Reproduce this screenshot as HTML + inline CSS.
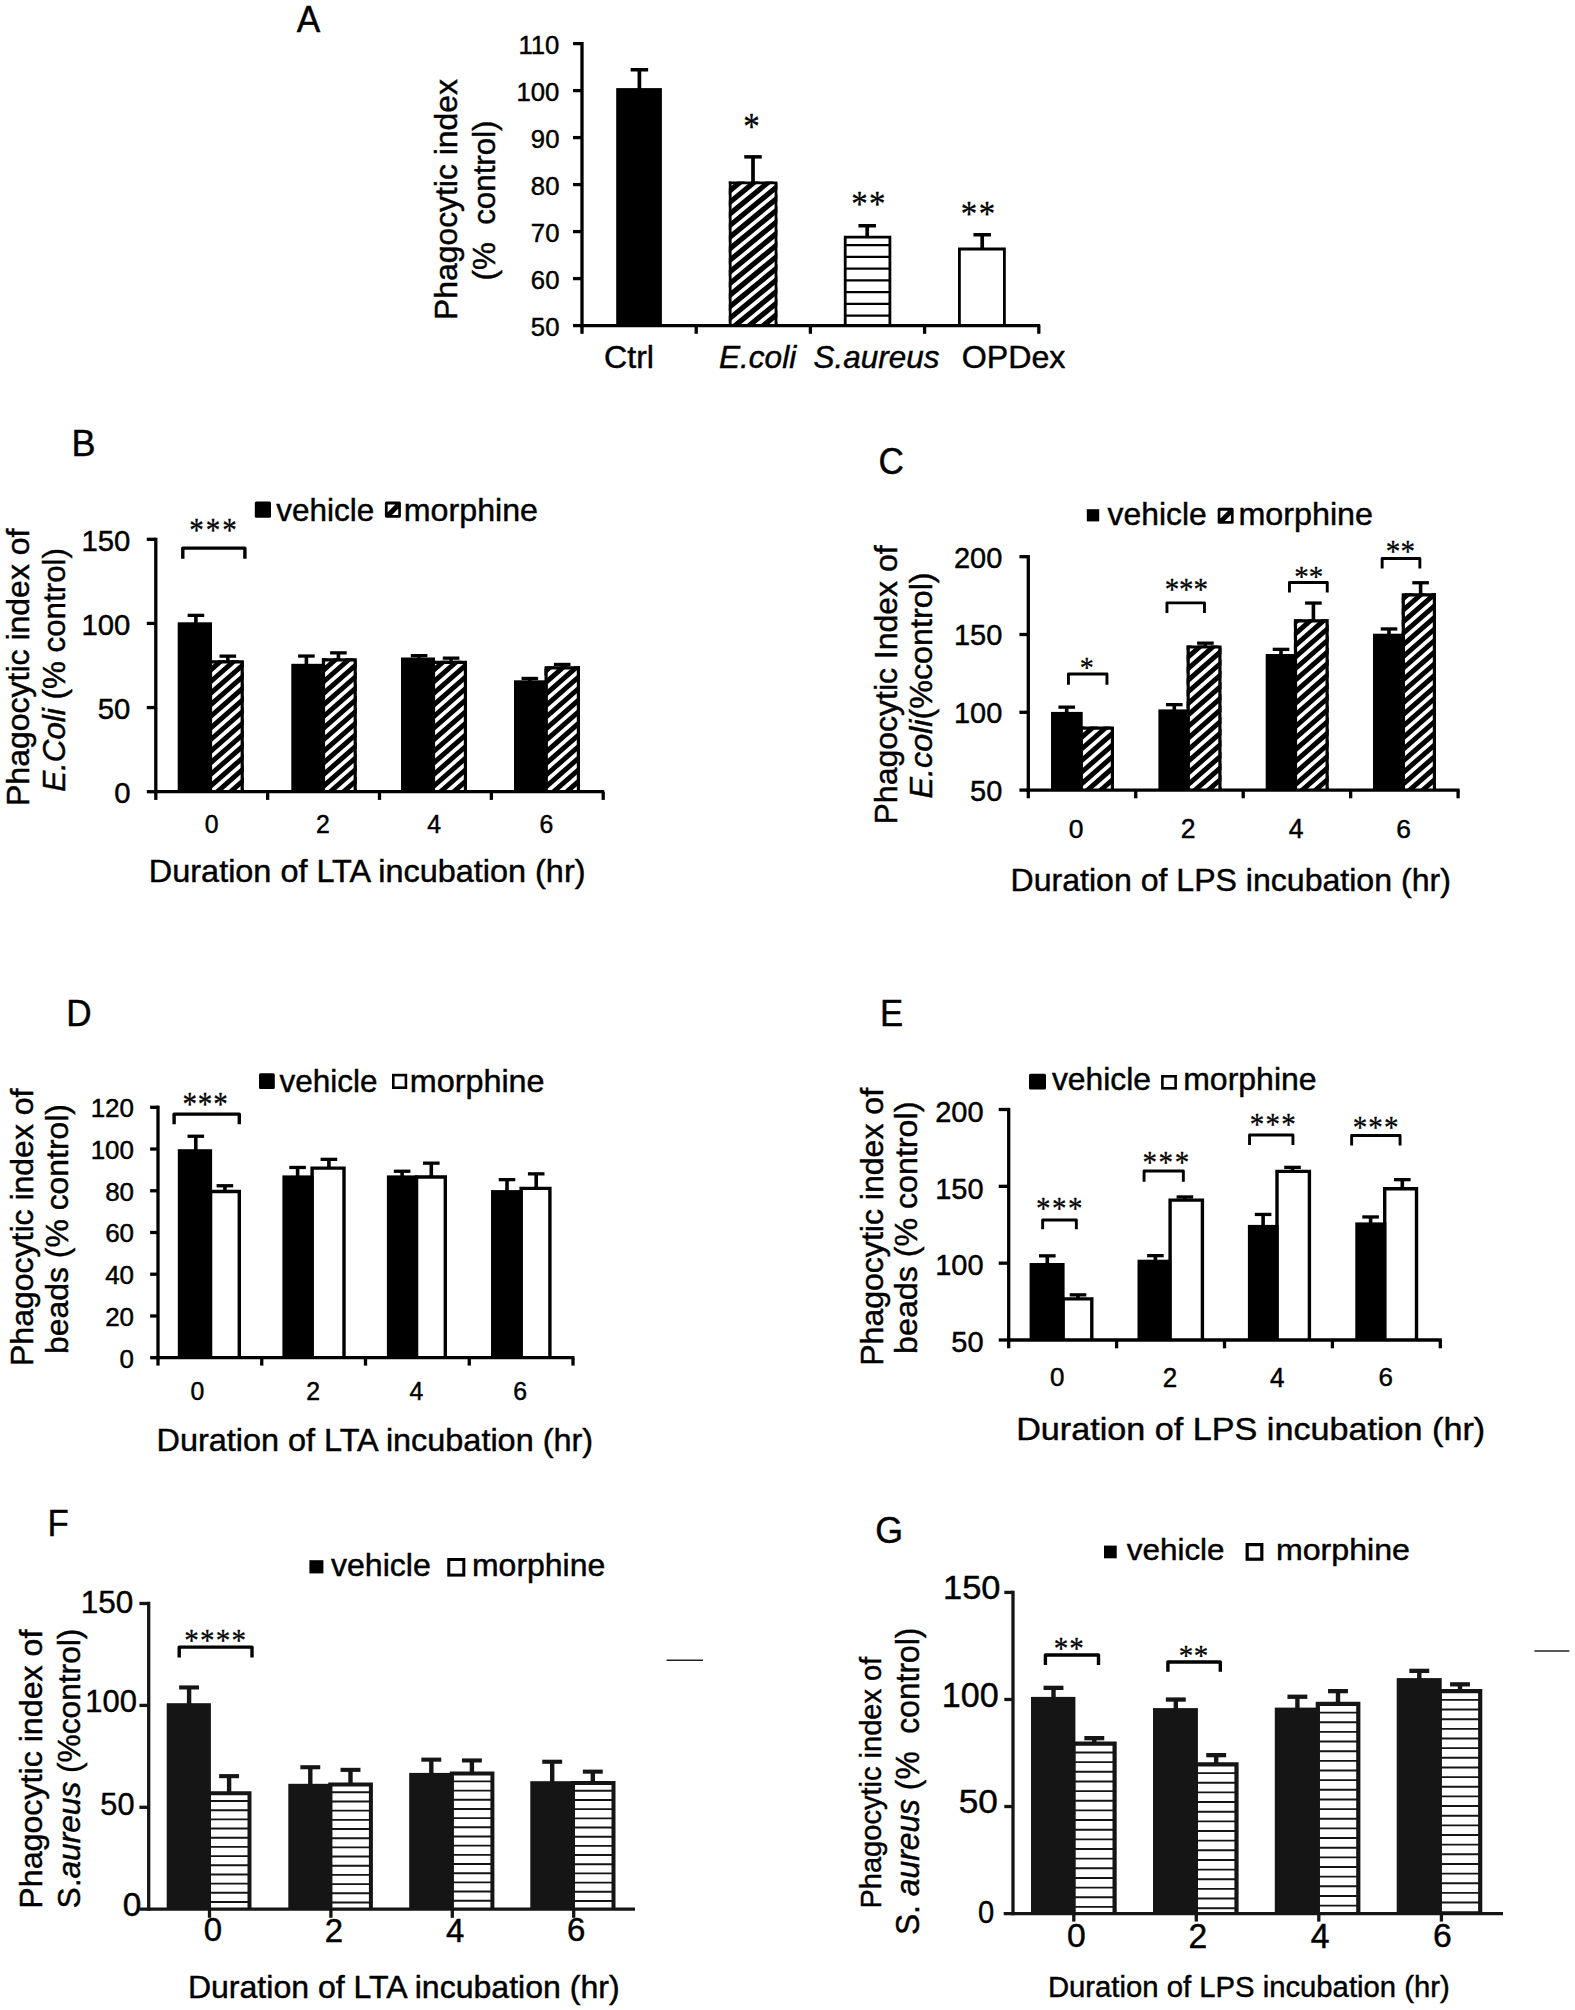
<!DOCTYPE html>
<html lang="en"><head><meta charset="utf-8"><title>Phagocytic index figure</title>
<style>html,body{margin:0;padding:0;background:#fff;overflow:hidden}svg{display:block}text{white-space:pre}</style></head><body>
<svg width="1575" height="2010" viewBox="0 0 1575 2010">
<rect width="1575" height="2010" fill="#fff"/>
<defs><clipPath id="c1"><rect x="728.8" y="181.5" width="48.6" height="144.1"/></clipPath><clipPath id="c2"><rect x="208.9" y="660.2" width="34.9" height="131.5"/></clipPath><clipPath id="c3"><rect x="321.9" y="658.2" width="34.9" height="133.5"/></clipPath><clipPath id="c4"><rect x="431.9" y="660.8" width="35.1" height="130.9"/></clipPath><clipPath id="c5"><rect x="544.5" y="666.3" width="35.5" height="125.4"/></clipPath><clipPath id="c6"><rect x="1079.6" y="726.6" width="34.4" height="63.5"/></clipPath><clipPath id="c7"><rect x="1186.6" y="645.4" width="34.9" height="144.7"/></clipPath><clipPath id="c8"><rect x="1293.9" y="619.2" width="34.8" height="170.9"/></clipPath><clipPath id="c9"><rect x="1401.7" y="593.3" width="34.3" height="196.8"/></clipPath></defs>
<rect x="616.2" y="88.1" width="45.7" height="237.5" fill="#000"/>
<g clip-path="url(#c1)"><rect x="728.8" y="181.5" width="48.6" height="144.1" fill="#fff"/><path d="M726.8 378.83L779.4 335.55M726.8 367.23L779.4 323.95M726.8 355.63L779.4 312.35M726.8 344.03L779.4 300.75M726.8 332.43L779.4 289.15M726.8 320.83L779.4 277.55M726.8 309.23L779.4 265.95M726.8 297.63L779.4 254.35M726.8 286.03L779.4 242.75M726.8 274.43L779.4 231.15M726.8 262.83L779.4 219.55M726.8 251.23L779.4 207.95M726.8 239.63L779.4 196.35M726.8 228.03L779.4 184.75M726.8 216.43L779.4 173.15M726.8 204.83L779.4 161.55M726.8 193.23L779.4 149.95M726.8 181.63L779.4 138.35" stroke="#000" stroke-width="5.25" fill="none"/></g>
<path d="M730.2 325.6V182.9H776V325.6" fill="none" stroke="#000" stroke-width="2.8" stroke-linejoin="miter"/>
<rect x="843.8" y="235.7" width="47.5" height="89.9" fill="#fff"/>
<path d="M845.2 325.6V237.1H889.9V325.6" fill="none" stroke="#000" stroke-width="2.8" stroke-linejoin="miter"/>
<path d="M845.2 245.1H889.9M845.2 256.86H889.9M845.2 268.62H889.9M845.2 280.38H889.9M845.2 292.14H889.9M845.2 303.9H889.9M845.2 315.66H889.9" stroke="#000" stroke-width="2.2" fill="none"/>
<rect x="958" y="247.6" width="47.8" height="78" fill="#fff"/>
<path d="M959.4 325.6V249H1004.4V325.6" fill="none" stroke="#000" stroke-width="2.8" stroke-linejoin="miter"/>
<path d="M639.4 69.75V89.1" stroke="#000" stroke-width="3.7" fill="none"/>
<path d="M630.65 69.75H648.15" stroke="#000" stroke-width="3.5" fill="none"/>
<path d="M753 156.85V182.5" stroke="#000" stroke-width="3.7" fill="none"/>
<path d="M744.25 156.85H761.75" stroke="#000" stroke-width="3.5" fill="none"/>
<path d="M867.2 225.75V236.7" stroke="#000" stroke-width="3.7" fill="none"/>
<path d="M858.45 225.75H875.95" stroke="#000" stroke-width="3.5" fill="none"/>
<path d="M982.2 234.75V248.6" stroke="#000" stroke-width="3.7" fill="none"/>
<path d="M973.45 234.75H990.95" stroke="#000" stroke-width="3.5" fill="none"/>
<line x1="582" y1="41.95" x2="582" y2="327.25" stroke="#000" stroke-width="3.3" stroke-linecap="butt"/>
<line x1="580.35" y1="325.6" x2="1040.2" y2="325.6" stroke="#000" stroke-width="3.3" stroke-linecap="butt"/>
<line x1="573" y1="43.6" x2="582" y2="43.6" stroke="#000" stroke-width="3.3" stroke-linecap="butt"/>
<line x1="573" y1="90.6" x2="582" y2="90.6" stroke="#000" stroke-width="3.3" stroke-linecap="butt"/>
<line x1="573" y1="137.6" x2="582" y2="137.6" stroke="#000" stroke-width="3.3" stroke-linecap="butt"/>
<line x1="573" y1="184.6" x2="582" y2="184.6" stroke="#000" stroke-width="3.3" stroke-linecap="butt"/>
<line x1="573" y1="231.6" x2="582" y2="231.6" stroke="#000" stroke-width="3.3" stroke-linecap="butt"/>
<line x1="573" y1="278.6" x2="582" y2="278.6" stroke="#000" stroke-width="3.3" stroke-linecap="butt"/>
<line x1="573" y1="325.6" x2="582" y2="325.6" stroke="#000" stroke-width="3.3" stroke-linecap="butt"/>
<line x1="582" y1="325.6" x2="582" y2="333.8" stroke="#000" stroke-width="3.3" stroke-linecap="butt"/>
<line x1="696.2" y1="325.6" x2="696.2" y2="333.8" stroke="#000" stroke-width="3.3" stroke-linecap="butt"/>
<line x1="810.4" y1="325.6" x2="810.4" y2="333.8" stroke="#000" stroke-width="3.3" stroke-linecap="butt"/>
<line x1="924.6" y1="325.6" x2="924.6" y2="333.8" stroke="#000" stroke-width="3.3" stroke-linecap="butt"/>
<line x1="1038.8" y1="325.6" x2="1038.8" y2="333.8" stroke="#000" stroke-width="3.3" stroke-linecap="butt"/>
<g clip-path="url(#c2)"><rect x="208.9" y="660.2" width="34.9" height="131.5" fill="#fff"/><path d="M206.9 835.73L245.8 801.54M206.9 824.13L245.8 789.94M206.9 812.53L245.8 778.34M206.9 800.93L245.8 766.74M206.9 789.33L245.8 755.14M206.9 777.73L245.8 743.54M206.9 766.13L245.8 731.94M206.9 754.53L245.8 720.34M206.9 742.93L245.8 708.74M206.9 731.33L245.8 697.14M206.9 719.73L245.8 685.54M206.9 708.13L245.8 673.94M206.9 696.53L245.8 662.34M206.9 684.93L245.8 650.74M206.9 673.33L245.8 639.14M206.9 661.73L245.8 627.54" stroke="#000" stroke-width="4.95" fill="none"/></g>
<path d="M210.5 791.7V661.8H242.2V791.7" fill="none" stroke="#000" stroke-width="3.2" stroke-linejoin="miter"/>
<g clip-path="url(#c3)"><rect x="321.9" y="658.2" width="34.9" height="133.5" fill="#fff"/><path d="M319.9 835.73L358.8 801.54M319.9 824.13L358.8 789.94M319.9 812.53L358.8 778.34M319.9 800.93L358.8 766.74M319.9 789.33L358.8 755.14M319.9 777.73L358.8 743.54M319.9 766.13L358.8 731.94M319.9 754.53L358.8 720.34M319.9 742.93L358.8 708.74M319.9 731.33L358.8 697.14M319.9 719.73L358.8 685.54M319.9 708.13L358.8 673.94M319.9 696.53L358.8 662.34M319.9 684.93L358.8 650.74M319.9 673.33L358.8 639.14M319.9 661.73L358.8 627.54M319.9 650.13L358.8 615.94" stroke="#000" stroke-width="4.95" fill="none"/></g>
<path d="M323.5 791.7V659.8H355.2V791.7" fill="none" stroke="#000" stroke-width="3.2" stroke-linejoin="miter"/>
<g clip-path="url(#c4)"><rect x="431.9" y="660.8" width="35.1" height="130.9" fill="#fff"/><path d="M429.9 835.9L469 801.54M429.9 824.3L469 789.94M429.9 812.7L469 778.34M429.9 801.1L469 766.74M429.9 789.5L469 755.14M429.9 777.9L469 743.54M429.9 766.3L469 731.94M429.9 754.7L469 720.34M429.9 743.1L469 708.74M429.9 731.5L469 697.14M429.9 719.9L469 685.54M429.9 708.3L469 673.94M429.9 696.7L469 662.34M429.9 685.1L469 650.74M429.9 673.5L469 639.14M429.9 661.9L469 627.54" stroke="#000" stroke-width="4.95" fill="none"/></g>
<path d="M433.5 791.7V662.4H465.4V791.7" fill="none" stroke="#000" stroke-width="3.2" stroke-linejoin="miter"/>
<g clip-path="url(#c5)"><rect x="544.5" y="666.3" width="35.5" height="125.4" fill="#fff"/><path d="M542.5 836.25L582 801.54M542.5 824.65L582 789.94M542.5 813.05L582 778.34M542.5 801.45L582 766.74M542.5 789.85L582 755.14M542.5 778.25L582 743.54M542.5 766.65L582 731.94M542.5 755.05L582 720.34M542.5 743.45L582 708.74M542.5 731.85L582 697.14M542.5 720.25L582 685.54M542.5 708.65L582 673.94M542.5 697.05L582 662.34M542.5 685.45L582 650.74M542.5 673.85L582 639.14M542.5 662.25L582 627.54" stroke="#000" stroke-width="4.95" fill="none"/></g>
<path d="M546.1 791.7V667.9H578.4V791.7" fill="none" stroke="#000" stroke-width="3.2" stroke-linejoin="miter"/>
<rect x="177.7" y="622.3" width="34.3" height="169.4" fill="#000"/>
<rect x="291.3" y="663.8" width="33.7" height="127.9" fill="#000"/>
<rect x="401" y="657.5" width="34" height="134.2" fill="#000"/>
<rect x="514" y="680.3" width="33.6" height="111.4" fill="#000"/>
<path d="M195.9 615.35V623.3" stroke="#000" stroke-width="3.6" fill="none"/>
<path d="M187.6 615.35H204.2" stroke="#000" stroke-width="3.3" fill="none"/>
<path d="M227.8 656.15V661.2" stroke="#000" stroke-width="3.6" fill="none"/>
<path d="M219.5 656.15H236.1" stroke="#000" stroke-width="3.3" fill="none"/>
<path d="M306.4 656.05V664.5" stroke="#000" stroke-width="3.6" fill="none"/>
<path d="M298.1 656.05H314.7" stroke="#000" stroke-width="3.3" fill="none"/>
<path d="M338.4 652.85V658.5" stroke="#000" stroke-width="3.6" fill="none"/>
<path d="M330.1 652.85H346.7" stroke="#000" stroke-width="3.3" fill="none"/>
<path d="M419.1 655.65V658.5" stroke="#000" stroke-width="3.6" fill="none"/>
<path d="M410.8 655.65H427.4" stroke="#000" stroke-width="3.3" fill="none"/>
<path d="M451.1 658.15V661.8" stroke="#000" stroke-width="3.6" fill="none"/>
<path d="M442.8 658.15H459.4" stroke="#000" stroke-width="3.3" fill="none"/>
<path d="M529.8 678.45V681.3" stroke="#000" stroke-width="3.6" fill="none"/>
<path d="M521.5 678.45H538.1" stroke="#000" stroke-width="3.3" fill="none"/>
<path d="M562.2 664.45V667.3" stroke="#000" stroke-width="3.6" fill="none"/>
<path d="M553.9 664.45H570.5" stroke="#000" stroke-width="3.3" fill="none"/>
<line x1="155.8" y1="537.65" x2="155.8" y2="793.35" stroke="#000" stroke-width="3.3" stroke-linecap="butt"/>
<line x1="154.15" y1="791.7" x2="604.2" y2="791.7" stroke="#000" stroke-width="3.3" stroke-linecap="butt"/>
<line x1="146.8" y1="539.3" x2="155.8" y2="539.3" stroke="#000" stroke-width="3.3" stroke-linecap="butt"/>
<line x1="146.8" y1="623.43" x2="155.8" y2="623.43" stroke="#000" stroke-width="3.3" stroke-linecap="butt"/>
<line x1="146.8" y1="707.57" x2="155.8" y2="707.57" stroke="#000" stroke-width="3.3" stroke-linecap="butt"/>
<line x1="146.8" y1="791.7" x2="155.8" y2="791.7" stroke="#000" stroke-width="3.3" stroke-linecap="butt"/>
<line x1="155.8" y1="791.7" x2="155.8" y2="799.9" stroke="#000" stroke-width="3.3" stroke-linecap="butt"/>
<line x1="267.65" y1="791.7" x2="267.65" y2="799.9" stroke="#000" stroke-width="3.3" stroke-linecap="butt"/>
<line x1="379.5" y1="791.7" x2="379.5" y2="799.9" stroke="#000" stroke-width="3.3" stroke-linecap="butt"/>
<line x1="491.35" y1="791.7" x2="491.35" y2="799.9" stroke="#000" stroke-width="3.3" stroke-linecap="butt"/>
<line x1="603.2" y1="791.7" x2="603.2" y2="799.9" stroke="#000" stroke-width="3.3" stroke-linecap="butt"/>
<path d="M182.8 558.8V548.1H244.9V558.8" stroke="#000" stroke-width="3.4" fill="none" stroke-linejoin="round" stroke-linecap="butt"/>
<rect x="254.8" y="501.5" width="16.2" height="16.2" fill="#000" rx="1.5"/>
<rect x="384.9" y="501.5" width="16" height="16.2" fill="#000" rx="1.6"/>
<path d="M387.6 504.5H395.2L387.6 512.3Z" fill="#fff"/>
<path d="M398.2 515H392L398.2 508.7Z" fill="#fff"/>
<g clip-path="url(#c6)"><rect x="1079.6" y="726.6" width="34.4" height="63.5" fill="#fff"/><path d="M1077.6 833.69L1116 799.94M1077.6 822.09L1116 788.34M1077.6 810.49L1116 776.74M1077.6 798.89L1116 765.14M1077.6 787.29L1116 753.54M1077.6 775.69L1116 741.94M1077.6 764.09L1116 730.34M1077.6 752.49L1116 718.74M1077.6 740.89L1116 707.14M1077.6 729.29L1116 695.54M1077.6 717.69L1116 683.94" stroke="#000" stroke-width="4.95" fill="none"/></g>
<path d="M1081.2 790.1V728.2H1112.4V790.1" fill="none" stroke="#000" stroke-width="3.2" stroke-linejoin="miter"/>
<g clip-path="url(#c7)"><rect x="1186.6" y="645.4" width="34.9" height="144.7" fill="#fff"/><path d="M1184.6 834.13L1223.5 799.94M1184.6 822.53L1223.5 788.34M1184.6 810.93L1223.5 776.74M1184.6 799.33L1223.5 765.14M1184.6 787.73L1223.5 753.54M1184.6 776.13L1223.5 741.94M1184.6 764.53L1223.5 730.34M1184.6 752.93L1223.5 718.74M1184.6 741.33L1223.5 707.14M1184.6 729.73L1223.5 695.54M1184.6 718.13L1223.5 683.94M1184.6 706.53L1223.5 672.34M1184.6 694.93L1223.5 660.74M1184.6 683.33L1223.5 649.14M1184.6 671.73L1223.5 637.54M1184.6 660.13L1223.5 625.94M1184.6 648.53L1223.5 614.34M1184.6 636.93L1223.5 602.74" stroke="#000" stroke-width="4.95" fill="none"/></g>
<path d="M1188.2 790.1V647H1219.9V790.1" fill="none" stroke="#000" stroke-width="3.2" stroke-linejoin="miter"/>
<g clip-path="url(#c8)"><rect x="1293.9" y="619.2" width="34.8" height="170.9" fill="#fff"/><path d="M1291.9 834.04L1330.7 799.94M1291.9 822.44L1330.7 788.34M1291.9 810.84L1330.7 776.74M1291.9 799.24L1330.7 765.14M1291.9 787.64L1330.7 753.54M1291.9 776.04L1330.7 741.94M1291.9 764.44L1330.7 730.34M1291.9 752.84L1330.7 718.74M1291.9 741.24L1330.7 707.14M1291.9 729.64L1330.7 695.54M1291.9 718.04L1330.7 683.94M1291.9 706.44L1330.7 672.34M1291.9 694.84L1330.7 660.74M1291.9 683.24L1330.7 649.14M1291.9 671.64L1330.7 637.54M1291.9 660.04L1330.7 625.94M1291.9 648.44L1330.7 614.34M1291.9 636.84L1330.7 602.74M1291.9 625.24L1330.7 591.14M1291.9 613.64L1330.7 579.54" stroke="#000" stroke-width="4.95" fill="none"/></g>
<path d="M1295.5 790.1V620.8H1327.1V790.1" fill="none" stroke="#000" stroke-width="3.2" stroke-linejoin="miter"/>
<g clip-path="url(#c9)"><rect x="1401.7" y="593.3" width="34.3" height="196.8" fill="#fff"/><path d="M1399.7 833.6L1438 799.94M1399.7 822L1438 788.34M1399.7 810.4L1438 776.74M1399.7 798.8L1438 765.14M1399.7 787.2L1438 753.54M1399.7 775.6L1438 741.94M1399.7 764L1438 730.34M1399.7 752.4L1438 718.74M1399.7 740.8L1438 707.14M1399.7 729.2L1438 695.54M1399.7 717.6L1438 683.94M1399.7 706L1438 672.34M1399.7 694.4L1438 660.74M1399.7 682.8L1438 649.14M1399.7 671.2L1438 637.54M1399.7 659.6L1438 625.94M1399.7 648L1438 614.34M1399.7 636.4L1438 602.74M1399.7 624.8L1438 591.14M1399.7 613.2L1438 579.54M1399.7 601.6L1438 567.94M1399.7 590L1438 556.34" stroke="#000" stroke-width="4.95" fill="none"/></g>
<path d="M1403.3 790.1V594.9H1434.4V790.1" fill="none" stroke="#000" stroke-width="3.2" stroke-linejoin="miter"/>
<rect x="1051" y="711.9" width="31.7" height="78.2" fill="#000"/>
<rect x="1158.4" y="709.4" width="31.3" height="80.7" fill="#000"/>
<rect x="1265.7" y="654" width="31.3" height="136.1" fill="#000"/>
<rect x="1373" y="633.7" width="31.8" height="156.4" fill="#000"/>
<path d="M1066.7 707.15V712.9" stroke="#000" stroke-width="3.6" fill="none"/>
<path d="M1058.4 707.15H1075" stroke="#000" stroke-width="3.3" fill="none"/>
<path d="M1174.3 704.65V710.4" stroke="#000" stroke-width="3.6" fill="none"/>
<path d="M1166 704.65H1182.6" stroke="#000" stroke-width="3.3" fill="none"/>
<path d="M1205.4 643.15V646.4" stroke="#000" stroke-width="3.6" fill="none"/>
<path d="M1197.1 643.15H1213.7" stroke="#000" stroke-width="3.3" fill="none"/>
<path d="M1281 649.35V655" stroke="#000" stroke-width="3.6" fill="none"/>
<path d="M1272.7 649.35H1289.3" stroke="#000" stroke-width="3.3" fill="none"/>
<path d="M1313.4 603.05V620.2" stroke="#000" stroke-width="3.6" fill="none"/>
<path d="M1305.1 603.05H1321.7" stroke="#000" stroke-width="3.3" fill="none"/>
<path d="M1389 628.95V634.7" stroke="#000" stroke-width="3.6" fill="none"/>
<path d="M1380.7 628.95H1397.3" stroke="#000" stroke-width="3.3" fill="none"/>
<path d="M1420.6 582.75V594.3" stroke="#000" stroke-width="3.6" fill="none"/>
<path d="M1412.3 582.75H1428.9" stroke="#000" stroke-width="3.3" fill="none"/>
<line x1="1028.3" y1="555.05" x2="1028.3" y2="791.75" stroke="#000" stroke-width="3.3" stroke-linecap="butt"/>
<line x1="1026.65" y1="790.1" x2="1459.6" y2="790.1" stroke="#000" stroke-width="3.3" stroke-linecap="butt"/>
<line x1="1019.4" y1="556.7" x2="1028.3" y2="556.7" stroke="#000" stroke-width="3.3" stroke-linecap="butt"/>
<line x1="1019.4" y1="634.5" x2="1028.3" y2="634.5" stroke="#000" stroke-width="3.3" stroke-linecap="butt"/>
<line x1="1019.4" y1="712.3" x2="1028.3" y2="712.3" stroke="#000" stroke-width="3.3" stroke-linecap="butt"/>
<line x1="1019.4" y1="790.1" x2="1028.3" y2="790.1" stroke="#000" stroke-width="3.3" stroke-linecap="butt"/>
<line x1="1028.3" y1="790.1" x2="1028.3" y2="798.3" stroke="#000" stroke-width="3.3" stroke-linecap="butt"/>
<line x1="1135.75" y1="790.1" x2="1135.75" y2="798.3" stroke="#000" stroke-width="3.3" stroke-linecap="butt"/>
<line x1="1243.2" y1="790.1" x2="1243.2" y2="798.3" stroke="#000" stroke-width="3.3" stroke-linecap="butt"/>
<line x1="1350.65" y1="790.1" x2="1350.65" y2="798.3" stroke="#000" stroke-width="3.3" stroke-linecap="butt"/>
<line x1="1458.1" y1="790.1" x2="1458.1" y2="798.3" stroke="#000" stroke-width="3.3" stroke-linecap="butt"/>
<path d="M1068.45 684.7V673.95H1106.95V684.7" stroke="#000" stroke-width="2.9" fill="none" stroke-linejoin="round" stroke-linecap="butt"/>
<path d="M1166.95 612.9V602.85H1204.45V612.9" stroke="#000" stroke-width="2.9" fill="none" stroke-linejoin="round" stroke-linecap="butt"/>
<path d="M1289.45 592.5V582.55H1327.25V592.5" stroke="#000" stroke-width="2.9" fill="none" stroke-linejoin="round" stroke-linecap="butt"/>
<path d="M1382.15 568.4V558.45H1419.85V568.4" stroke="#000" stroke-width="2.9" fill="none" stroke-linejoin="round" stroke-linecap="butt"/>
<rect x="1086.8" y="509.2" width="12.4" height="12.2" fill="#000"/>
<rect x="1217.7" y="507.8" width="15.9" height="16" fill="#000" rx="1.6"/>
<path d="M1220.4 510.8H1228L1220.4 518.6Z" fill="#fff"/>
<path d="M1230.9 521.1H1224.7L1230.9 514.8Z" fill="#fff"/>
<rect x="208.8" y="1189.8" width="32.2" height="167.9" fill="#fff"/>
<path d="M210.5 1357.7V1191.5H239.3V1357.7" fill="none" stroke="#000" stroke-width="3.4" stroke-linejoin="miter"/>
<rect x="310.4" y="1166.4" width="35.3" height="191.3" fill="#fff"/>
<path d="M312.1 1357.7V1168.1H344V1357.7" fill="none" stroke="#000" stroke-width="3.4" stroke-linejoin="miter"/>
<rect x="414.8" y="1175.3" width="32.2" height="182.4" fill="#fff"/>
<path d="M416.5 1357.7V1177H445.3V1357.7" fill="none" stroke="#000" stroke-width="3.4" stroke-linejoin="miter"/>
<rect x="519.4" y="1186.7" width="32.2" height="171" fill="#fff"/>
<path d="M521.1 1357.7V1188.4H549.9V1357.7" fill="none" stroke="#000" stroke-width="3.4" stroke-linejoin="miter"/>
<rect x="177.8" y="1149.2" width="34.3" height="208.5" fill="#000"/>
<rect x="282.4" y="1175.4" width="31.3" height="182.3" fill="#000"/>
<rect x="386.9" y="1175.4" width="31.2" height="182.3" fill="#000"/>
<rect x="491" y="1190.1" width="31.7" height="167.6" fill="#000"/>
<path d="M195.8 1136.25V1150.2" stroke="#000" stroke-width="3.6" fill="none"/>
<path d="M187.5 1136.25H204.1" stroke="#000" stroke-width="3.3" fill="none"/>
<path d="M224.9 1185.75V1190.8" stroke="#000" stroke-width="3.6" fill="none"/>
<path d="M216.6 1185.75H233.2" stroke="#000" stroke-width="3.3" fill="none"/>
<path d="M297.6 1167.45V1176.4" stroke="#000" stroke-width="3.6" fill="none"/>
<path d="M289.3 1167.45H305.9" stroke="#000" stroke-width="3.3" fill="none"/>
<path d="M328.9 1159.35V1167.4" stroke="#000" stroke-width="3.6" fill="none"/>
<path d="M320.6 1159.35H337.2" stroke="#000" stroke-width="3.3" fill="none"/>
<path d="M402.1 1171.25V1176.4" stroke="#000" stroke-width="3.6" fill="none"/>
<path d="M393.8 1171.25H410.4" stroke="#000" stroke-width="3.3" fill="none"/>
<path d="M431.3 1163.15V1176.3" stroke="#000" stroke-width="3.6" fill="none"/>
<path d="M423 1163.15H439.6" stroke="#000" stroke-width="3.3" fill="none"/>
<path d="M507 1179.65V1191.1" stroke="#000" stroke-width="3.6" fill="none"/>
<path d="M498.7 1179.65H515.3" stroke="#000" stroke-width="3.3" fill="none"/>
<path d="M536.2 1173.85V1187.7" stroke="#000" stroke-width="3.6" fill="none"/>
<path d="M527.9 1173.85H544.5" stroke="#000" stroke-width="3.3" fill="none"/>
<line x1="158" y1="1105.65" x2="158" y2="1359.35" stroke="#000" stroke-width="3.3" stroke-linecap="butt"/>
<line x1="156.35" y1="1357.7" x2="574.4" y2="1357.7" stroke="#000" stroke-width="3.3" stroke-linecap="butt"/>
<line x1="150.1" y1="1107.3" x2="158" y2="1107.3" stroke="#000" stroke-width="3.3" stroke-linecap="butt"/>
<line x1="150.1" y1="1149.03" x2="158" y2="1149.03" stroke="#000" stroke-width="3.3" stroke-linecap="butt"/>
<line x1="150.1" y1="1190.77" x2="158" y2="1190.77" stroke="#000" stroke-width="3.3" stroke-linecap="butt"/>
<line x1="150.1" y1="1232.5" x2="158" y2="1232.5" stroke="#000" stroke-width="3.3" stroke-linecap="butt"/>
<line x1="150.1" y1="1274.23" x2="158" y2="1274.23" stroke="#000" stroke-width="3.3" stroke-linecap="butt"/>
<line x1="150.1" y1="1315.97" x2="158" y2="1315.97" stroke="#000" stroke-width="3.3" stroke-linecap="butt"/>
<line x1="150.1" y1="1357.7" x2="158" y2="1357.7" stroke="#000" stroke-width="3.3" stroke-linecap="butt"/>
<line x1="158" y1="1357.7" x2="158" y2="1365.6" stroke="#000" stroke-width="3.3" stroke-linecap="butt"/>
<line x1="261.75" y1="1357.7" x2="261.75" y2="1365.6" stroke="#000" stroke-width="3.3" stroke-linecap="butt"/>
<line x1="365.5" y1="1357.7" x2="365.5" y2="1365.6" stroke="#000" stroke-width="3.3" stroke-linecap="butt"/>
<line x1="469.25" y1="1357.7" x2="469.25" y2="1365.6" stroke="#000" stroke-width="3.3" stroke-linecap="butt"/>
<line x1="573" y1="1357.7" x2="573" y2="1365.6" stroke="#000" stroke-width="3.3" stroke-linecap="butt"/>
<path d="M174.1 1124.2V1114.1H239.3V1124.2" stroke="#000" stroke-width="3.4" fill="none" stroke-linejoin="round" stroke-linecap="butt"/>
<rect x="259" y="1073.3" width="15.8" height="15.7" fill="#000" rx="1.5"/>
<rect x="393.3" y="1075.1" width="12.6" height="12.6" fill="#fff" stroke="#000" stroke-width="2.6"/>
<rect x="1061.3" y="1297.2" width="32.2" height="42.8" fill="#fff"/>
<path d="M1063 1340V1298.9H1091.8V1340" fill="none" stroke="#000" stroke-width="3.4" stroke-linejoin="miter"/>
<rect x="1168.4" y="1198.4" width="35.7" height="141.6" fill="#fff"/>
<path d="M1170.1 1340V1200.1H1202.4V1340" fill="none" stroke="#000" stroke-width="3.4" stroke-linejoin="miter"/>
<rect x="1275.3" y="1169.7" width="35.8" height="170.3" fill="#fff"/>
<path d="M1277 1340V1171.4H1309.4V1340" fill="none" stroke="#000" stroke-width="3.4" stroke-linejoin="miter"/>
<rect x="1383" y="1187" width="35.2" height="153" fill="#fff"/>
<path d="M1384.7 1340V1188.7H1416.5V1340" fill="none" stroke="#000" stroke-width="3.4" stroke-linejoin="miter"/>
<rect x="1029.6" y="1263" width="35" height="77" fill="#000"/>
<rect x="1137.5" y="1259.7" width="33.8" height="80.3" fill="#000"/>
<rect x="1247.9" y="1224.9" width="30.7" height="115.1" fill="#000"/>
<rect x="1355.3" y="1222.4" width="31" height="117.6" fill="#000"/>
<path d="M1047.3 1255.85V1264" stroke="#000" stroke-width="3.6" fill="none"/>
<path d="M1039 1255.85H1055.6" stroke="#000" stroke-width="3.3" fill="none"/>
<path d="M1078 1294.85V1298.2" stroke="#000" stroke-width="3.6" fill="none"/>
<path d="M1069.7 1294.85H1086.3" stroke="#000" stroke-width="3.3" fill="none"/>
<path d="M1155.4 1255.65V1260.7" stroke="#000" stroke-width="3.6" fill="none"/>
<path d="M1147.1 1255.65H1163.7" stroke="#000" stroke-width="3.3" fill="none"/>
<path d="M1184.9 1196.95V1199.4" stroke="#000" stroke-width="3.6" fill="none"/>
<path d="M1176.6 1196.95H1193.2" stroke="#000" stroke-width="3.3" fill="none"/>
<path d="M1263.1 1214.45V1225.9" stroke="#000" stroke-width="3.6" fill="none"/>
<path d="M1254.8 1214.45H1271.4" stroke="#000" stroke-width="3.3" fill="none"/>
<path d="M1292.5 1167.35V1170.7" stroke="#000" stroke-width="3.6" fill="none"/>
<path d="M1284.2 1167.35H1300.8" stroke="#000" stroke-width="3.3" fill="none"/>
<path d="M1370.6 1216.95V1223.4" stroke="#000" stroke-width="3.6" fill="none"/>
<path d="M1362.3 1216.95H1378.9" stroke="#000" stroke-width="3.3" fill="none"/>
<path d="M1402.3 1179.65V1188" stroke="#000" stroke-width="3.6" fill="none"/>
<path d="M1394 1179.65H1410.6" stroke="#000" stroke-width="3.3" fill="none"/>
<line x1="1008.7" y1="1107.85" x2="1008.7" y2="1341.65" stroke="#000" stroke-width="3.3" stroke-linecap="butt"/>
<line x1="1007.05" y1="1340" x2="1441.8" y2="1340" stroke="#000" stroke-width="3.3" stroke-linecap="butt"/>
<line x1="998.7" y1="1109.5" x2="1008.7" y2="1109.5" stroke="#000" stroke-width="3.3" stroke-linecap="butt"/>
<line x1="998.7" y1="1186.33" x2="1008.7" y2="1186.33" stroke="#000" stroke-width="3.3" stroke-linecap="butt"/>
<line x1="998.7" y1="1263.17" x2="1008.7" y2="1263.17" stroke="#000" stroke-width="3.3" stroke-linecap="butt"/>
<line x1="998.7" y1="1340" x2="1008.7" y2="1340" stroke="#000" stroke-width="3.3" stroke-linecap="butt"/>
<line x1="1008.7" y1="1340" x2="1008.7" y2="1348.3" stroke="#000" stroke-width="3.3" stroke-linecap="butt"/>
<line x1="1116.6" y1="1340" x2="1116.6" y2="1348.3" stroke="#000" stroke-width="3.3" stroke-linecap="butt"/>
<line x1="1224.5" y1="1340" x2="1224.5" y2="1348.3" stroke="#000" stroke-width="3.3" stroke-linecap="butt"/>
<line x1="1332.4" y1="1340" x2="1332.4" y2="1348.3" stroke="#000" stroke-width="3.3" stroke-linecap="butt"/>
<line x1="1440.3" y1="1340" x2="1440.3" y2="1348.3" stroke="#000" stroke-width="3.3" stroke-linecap="butt"/>
<path d="M1042.65 1229.2V1219.95H1076.35V1229.2" stroke="#000" stroke-width="2.9" fill="none" stroke-linejoin="round" stroke-linecap="butt"/>
<path d="M1144.05 1181.7V1170.95H1183.35V1181.7" stroke="#000" stroke-width="2.9" fill="none" stroke-linejoin="round" stroke-linecap="butt"/>
<path d="M1249.55 1144.9V1134.95H1292.95V1144.9" stroke="#000" stroke-width="2.9" fill="none" stroke-linejoin="round" stroke-linecap="butt"/>
<path d="M1351.65 1145.4V1135.45H1400.05V1145.4" stroke="#000" stroke-width="2.9" fill="none" stroke-linejoin="round" stroke-linecap="butt"/>
<rect x="1029" y="1073.8" width="17" height="15.8" fill="#000" rx="1.5"/>
<rect x="1162.4" y="1076.3" width="13.2" height="12" fill="#fff" stroke="#000" stroke-width="2.6"/>
<rect x="207" y="1791.2" width="44.5" height="118" fill="#fff"/>
<path d="M209 1909.2V1793.2H249.5V1909.2" fill="none" stroke="#151515" stroke-width="4" stroke-linejoin="miter"/>
<path d="M209 1801H249.5M209 1810.18H249.5M209 1819.36H249.5M209 1828.54H249.5M209 1837.72H249.5M209 1846.9H249.5M209 1856.08H249.5M209 1865.26H249.5M209 1874.44H249.5M209 1883.62H249.5M209 1892.8H249.5M209 1901.98H249.5" stroke="#151515" stroke-width="1.9" fill="none"/>
<rect x="328.3" y="1782.5" width="44.6" height="126.7" fill="#fff"/>
<path d="M330.3 1909.2V1784.5H370.9V1909.2" fill="none" stroke="#151515" stroke-width="4" stroke-linejoin="miter"/>
<path d="M330.3 1792.3H370.9M330.3 1801.48H370.9M330.3 1810.66H370.9M330.3 1819.84H370.9M330.3 1829.02H370.9M330.3 1838.2H370.9M330.3 1847.38H370.9M330.3 1856.56H370.9M330.3 1865.74H370.9M330.3 1874.92H370.9M330.3 1884.1H370.9M330.3 1893.28H370.9M330.3 1902.46H370.9" stroke="#151515" stroke-width="1.9" fill="none"/>
<rect x="449.8" y="1771.6" width="44.6" height="137.6" fill="#fff"/>
<path d="M451.8 1909.2V1773.6H492.4V1909.2" fill="none" stroke="#151515" stroke-width="4" stroke-linejoin="miter"/>
<path d="M451.8 1781.4H492.4M451.8 1790.58H492.4M451.8 1799.76H492.4M451.8 1808.94H492.4M451.8 1818.12H492.4M451.8 1827.3H492.4M451.8 1836.48H492.4M451.8 1845.66H492.4M451.8 1854.84H492.4M451.8 1864.02H492.4M451.8 1873.2H492.4M451.8 1882.38H492.4M451.8 1891.56H492.4M451.8 1900.74H492.4" stroke="#151515" stroke-width="1.9" fill="none"/>
<rect x="570.9" y="1781" width="44.6" height="128.2" fill="#fff"/>
<path d="M572.9 1909.2V1783H613.5V1909.2" fill="none" stroke="#151515" stroke-width="4" stroke-linejoin="miter"/>
<path d="M572.9 1790.8H613.5M572.9 1799.98H613.5M572.9 1809.16H613.5M572.9 1818.34H613.5M572.9 1827.52H613.5M572.9 1836.7H613.5M572.9 1845.88H613.5M572.9 1855.06H613.5M572.9 1864.24H613.5M572.9 1873.42H613.5M572.9 1882.6H613.5M572.9 1891.78H613.5M572.9 1900.96H613.5" stroke="#151515" stroke-width="1.9" fill="none"/>
<rect x="166.7" y="1703.2" width="44.2" height="206" fill="#151515"/>
<rect x="288.3" y="1783.8" width="43.9" height="125.4" fill="#151515"/>
<rect x="409.2" y="1772.9" width="44.5" height="136.3" fill="#151515"/>
<rect x="530.3" y="1781.2" width="44.5" height="128" fill="#151515"/>
<path d="M189.1 1687.45V1704.2" stroke="#151515" stroke-width="4.4" fill="none"/>
<path d="M179.15 1687.45H199.05" stroke="#151515" stroke-width="4.1" fill="none"/>
<path d="M229.1 1776.15V1792.2" stroke="#151515" stroke-width="4.4" fill="none"/>
<path d="M219.15 1776.15H239.05" stroke="#151515" stroke-width="4.1" fill="none"/>
<path d="M310.3 1767.25V1784.8" stroke="#151515" stroke-width="4.4" fill="none"/>
<path d="M300.35 1767.25H320.25" stroke="#151515" stroke-width="4.1" fill="none"/>
<path d="M350.5 1769.85V1783.5" stroke="#151515" stroke-width="4.4" fill="none"/>
<path d="M340.55 1769.85H360.45" stroke="#151515" stroke-width="4.1" fill="none"/>
<path d="M431.3 1759.65V1773.9" stroke="#151515" stroke-width="4.4" fill="none"/>
<path d="M421.35 1759.65H441.25" stroke="#151515" stroke-width="4.1" fill="none"/>
<path d="M471.9 1760.45V1772.6" stroke="#151515" stroke-width="4.4" fill="none"/>
<path d="M461.95 1760.45H481.85" stroke="#151515" stroke-width="4.1" fill="none"/>
<path d="M552.2 1761.75V1782.2" stroke="#151515" stroke-width="4.4" fill="none"/>
<path d="M542.25 1761.75H562.15" stroke="#151515" stroke-width="4.1" fill="none"/>
<path d="M592.8 1771.65V1782" stroke="#151515" stroke-width="4.4" fill="none"/>
<path d="M582.85 1771.65H602.75" stroke="#151515" stroke-width="4.1" fill="none"/>
<line x1="148.7" y1="1601.85" x2="148.7" y2="1910.85" stroke="#151515" stroke-width="3.3" stroke-linecap="butt"/>
<line x1="139.4" y1="1909.2" x2="635" y2="1909.2" stroke="#151515" stroke-width="3.3" stroke-linecap="butt"/>
<line x1="139.4" y1="1603.5" x2="148.7" y2="1603.5" stroke="#151515" stroke-width="3.3" stroke-linecap="butt"/>
<line x1="139.4" y1="1705.4" x2="148.7" y2="1705.4" stroke="#151515" stroke-width="3.3" stroke-linecap="butt"/>
<line x1="139.4" y1="1807.3" x2="148.7" y2="1807.3" stroke="#151515" stroke-width="3.3" stroke-linecap="butt"/>
<line x1="209.5" y1="1909.2" x2="209.5" y2="1917.8" stroke="#151515" stroke-width="3.3" stroke-linecap="butt"/>
<line x1="330.9" y1="1909.2" x2="330.9" y2="1917.8" stroke="#151515" stroke-width="3.3" stroke-linecap="butt"/>
<line x1="452.3" y1="1909.2" x2="452.3" y2="1917.8" stroke="#151515" stroke-width="3.3" stroke-linecap="butt"/>
<line x1="573.7" y1="1909.2" x2="573.7" y2="1917.8" stroke="#151515" stroke-width="3.3" stroke-linecap="butt"/>
<path d="M179.2 1657.5V1647.1H252V1657.5" stroke="#000" stroke-width="3.4" fill="none" stroke-linejoin="round" stroke-linecap="butt"/>
<rect x="309.4" y="1560.2" width="14" height="13.2" fill="#000"/>
<rect x="448.8" y="1559.5" width="15" height="15.6" fill="#fff" stroke="#000" stroke-width="3"/>
<line x1="666.5" y1="1660.3" x2="703" y2="1660.3" stroke="#222" stroke-width="1.6" stroke-linecap="butt"/>
<rect x="1071.3" y="1741.6" width="45.4" height="172" fill="#fff"/>
<path d="M1073.4 1913.6V1743.7H1114.6V1913.6" fill="none" stroke="#151515" stroke-width="4.2" stroke-linejoin="miter"/>
<path d="M1073.4 1752.5H1114.6M1073.4 1762.15H1114.6M1073.4 1771.8H1114.6M1073.4 1781.45H1114.6M1073.4 1791.1H1114.6M1073.4 1800.75H1114.6M1073.4 1810.4H1114.6M1073.4 1820.05H1114.6M1073.4 1829.7H1114.6M1073.4 1839.35H1114.6M1073.4 1849H1114.6M1073.4 1858.65H1114.6M1073.4 1868.3H1114.6M1073.4 1877.95H1114.6M1073.4 1887.6H1114.6M1073.4 1897.25H1114.6M1073.4 1906.9H1114.6" stroke="#151515" stroke-width="1.9" fill="none"/>
<rect x="1193.8" y="1762.2" width="44.8" height="151.4" fill="#fff"/>
<path d="M1195.9 1913.6V1764.3H1236.5V1913.6" fill="none" stroke="#151515" stroke-width="4.2" stroke-linejoin="miter"/>
<path d="M1195.9 1773.1H1236.5M1195.9 1782.75H1236.5M1195.9 1792.4H1236.5M1195.9 1802.05H1236.5M1195.9 1811.7H1236.5M1195.9 1821.35H1236.5M1195.9 1831H1236.5M1195.9 1840.65H1236.5M1195.9 1850.3H1236.5M1195.9 1859.95H1236.5M1195.9 1869.6H1236.5M1195.9 1879.25H1236.5M1195.9 1888.9H1236.5M1195.9 1898.55H1236.5M1195.9 1908.2H1236.5" stroke="#151515" stroke-width="1.9" fill="none"/>
<rect x="1315.7" y="1701.7" width="44.7" height="211.9" fill="#fff"/>
<path d="M1317.8 1913.6V1703.8H1358.3V1913.6" fill="none" stroke="#151515" stroke-width="4.2" stroke-linejoin="miter"/>
<path d="M1317.8 1712.6H1358.3M1317.8 1722.25H1358.3M1317.8 1731.9H1358.3M1317.8 1741.55H1358.3M1317.8 1751.2H1358.3M1317.8 1760.85H1358.3M1317.8 1770.5H1358.3M1317.8 1780.15H1358.3M1317.8 1789.8H1358.3M1317.8 1799.45H1358.3M1317.8 1809.1H1358.3M1317.8 1818.75H1358.3M1317.8 1828.4H1358.3M1317.8 1838.05H1358.3M1317.8 1847.7H1358.3M1317.8 1857.35H1358.3M1317.8 1867H1358.3M1317.8 1876.65H1358.3M1317.8 1886.3H1358.3M1317.8 1895.95H1358.3M1317.8 1905.6H1358.3" stroke="#151515" stroke-width="1.9" fill="none"/>
<rect x="1437.6" y="1689" width="44.7" height="224.6" fill="#fff"/>
<path d="M1439.7 1913.6V1691.1H1480.2V1913.6" fill="none" stroke="#151515" stroke-width="4.2" stroke-linejoin="miter"/>
<path d="M1439.7 1699.9H1480.2M1439.7 1709.55H1480.2M1439.7 1719.2H1480.2M1439.7 1728.85H1480.2M1439.7 1738.5H1480.2M1439.7 1748.15H1480.2M1439.7 1757.8H1480.2M1439.7 1767.45H1480.2M1439.7 1777.1H1480.2M1439.7 1786.75H1480.2M1439.7 1796.4H1480.2M1439.7 1806.05H1480.2M1439.7 1815.7H1480.2M1439.7 1825.35H1480.2M1439.7 1835H1480.2M1439.7 1844.65H1480.2M1439.7 1854.3H1480.2M1439.7 1863.95H1480.2M1439.7 1873.6H1480.2M1439.7 1883.25H1480.2M1439.7 1892.9H1480.2M1439.7 1902.55H1480.2M1439.7 1912.2H1480.2" stroke="#151515" stroke-width="1.9" fill="none"/>
<rect x="1031" y="1696.9" width="44.4" height="216.7" fill="#151515"/>
<rect x="1153" y="1708.1" width="44.9" height="205.5" fill="#151515"/>
<rect x="1274.8" y="1707.6" width="45" height="206" fill="#151515"/>
<rect x="1396.7" y="1678.1" width="45" height="235.5" fill="#151515"/>
<path d="M1053.5 1687.85V1697.9" stroke="#151515" stroke-width="4.4" fill="none"/>
<path d="M1043.55 1687.85H1063.45" stroke="#151515" stroke-width="4.3" fill="none"/>
<path d="M1094.3 1738.15V1742.6" stroke="#151515" stroke-width="4.4" fill="none"/>
<path d="M1084.35 1738.15H1104.25" stroke="#151515" stroke-width="4.3" fill="none"/>
<path d="M1175.8 1699.55V1709.1" stroke="#151515" stroke-width="4.4" fill="none"/>
<path d="M1165.85 1699.55H1185.75" stroke="#151515" stroke-width="4.3" fill="none"/>
<path d="M1216.2 1755.15V1763.2" stroke="#151515" stroke-width="4.4" fill="none"/>
<path d="M1206.25 1755.15H1226.15" stroke="#151515" stroke-width="4.3" fill="none"/>
<path d="M1297.4 1696.75V1708.6" stroke="#151515" stroke-width="4.4" fill="none"/>
<path d="M1287.45 1696.75H1307.35" stroke="#151515" stroke-width="4.3" fill="none"/>
<path d="M1338 1691.15V1702.7" stroke="#151515" stroke-width="4.4" fill="none"/>
<path d="M1328.05 1691.15H1347.95" stroke="#151515" stroke-width="4.3" fill="none"/>
<path d="M1419.3 1670.85V1679.1" stroke="#151515" stroke-width="4.4" fill="none"/>
<path d="M1409.35 1670.85H1429.25" stroke="#151515" stroke-width="4.3" fill="none"/>
<path d="M1460 1684.35V1690" stroke="#151515" stroke-width="4.4" fill="none"/>
<path d="M1450.05 1684.35H1469.95" stroke="#151515" stroke-width="4.3" fill="none"/>
<line x1="1013" y1="1590.75" x2="1013" y2="1915.25" stroke="#151515" stroke-width="3.3" stroke-linecap="butt"/>
<line x1="1003.7" y1="1913.6" x2="1503" y2="1913.6" stroke="#151515" stroke-width="3.3" stroke-linecap="butt"/>
<line x1="1004.3" y1="1592.4" x2="1013" y2="1592.4" stroke="#151515" stroke-width="3.3" stroke-linecap="butt"/>
<line x1="1004.3" y1="1699.47" x2="1013" y2="1699.47" stroke="#151515" stroke-width="3.3" stroke-linecap="butt"/>
<line x1="1004.3" y1="1806.53" x2="1013" y2="1806.53" stroke="#151515" stroke-width="3.3" stroke-linecap="butt"/>
<line x1="1073.8" y1="1913.6" x2="1073.8" y2="1921.6" stroke="#151515" stroke-width="3.3" stroke-linecap="butt"/>
<line x1="1196.3" y1="1913.6" x2="1196.3" y2="1921.6" stroke="#151515" stroke-width="3.3" stroke-linecap="butt"/>
<line x1="1318.8" y1="1913.6" x2="1318.8" y2="1921.6" stroke="#151515" stroke-width="3.3" stroke-linecap="butt"/>
<line x1="1441.4" y1="1913.6" x2="1441.4" y2="1921.6" stroke="#151515" stroke-width="3.3" stroke-linecap="butt"/>
<path d="M1045.4 1665.1V1655H1098.5V1665.1" stroke="#000" stroke-width="3.4" fill="none" stroke-linejoin="round" stroke-linecap="butt"/>
<path d="M1167.9 1671.8V1662H1220.3V1671.8" stroke="#000" stroke-width="3.4" fill="none" stroke-linejoin="round" stroke-linecap="butt"/>
<rect x="1104" y="1545.6" width="12.7" height="12.7" fill="#000"/>
<rect x="1247.2" y="1544.6" width="14.6" height="14.6" fill="#fff" stroke="#000" stroke-width="3.2"/>
<line x1="1534.4" y1="1651" x2="1569.4" y2="1651" stroke="#222" stroke-width="1.6" stroke-linecap="butt"/>
<text transform="translate(296.8 31.7) scale(0.9534 0.9879)" font-family="'Liberation Sans', sans-serif" font-size="37" fill="#000" stroke="#000" stroke-width="0.45">A</text>
<text transform="translate(71.49 456.3) scale(0.9736 0.9763)" font-family="'Liberation Sans', sans-serif" font-size="37" fill="#000" stroke="#000" stroke-width="0.45">B</text>
<text transform="translate(878.55 474.01) scale(0.9492 1.0153)" font-family="'Liberation Sans', sans-serif" font-size="37" fill="#000" stroke="#000" stroke-width="0.45">C</text>
<text transform="translate(66.36 1025.9) scale(0.9491 0.9763)" font-family="'Liberation Sans', sans-serif" font-size="37" fill="#000" stroke="#000" stroke-width="0.45">D</text>
<text transform="translate(879.99 1025.9) scale(0.9390 0.9763)" font-family="'Liberation Sans', sans-serif" font-size="37" fill="#000" stroke="#000" stroke-width="0.45">E</text>
<text transform="translate(47.58 1535.8) scale(0.9405 0.9879)" font-family="'Liberation Sans', sans-serif" font-size="37" fill="#000" stroke="#000" stroke-width="0.45">F</text>
<text transform="translate(875.32 1542.92) scale(0.9678 1.0115)" font-family="'Liberation Sans', sans-serif" font-size="37" fill="#000" stroke="#000" stroke-width="0.45">G</text>
<text transform="translate(518.47 53.8) scale(1.0000 1.0069)" font-family="'Liberation Sans', sans-serif" font-size="25.7" fill="#000" stroke="#000" stroke-width="0.45">110</text>
<text transform="translate(516.56 100.8) scale(1.0000 1.0069)" font-family="'Liberation Sans', sans-serif" font-size="25.7" fill="#000" stroke="#000" stroke-width="0.45">100</text>
<text transform="translate(530.85 147.8) scale(1.0000 1.0069)" font-family="'Liberation Sans', sans-serif" font-size="25.7" fill="#000" stroke="#000" stroke-width="0.45">90</text>
<text transform="translate(530.85 194.8) scale(1.0000 1.0069)" font-family="'Liberation Sans', sans-serif" font-size="25.7" fill="#000" stroke="#000" stroke-width="0.45">80</text>
<text transform="translate(530.85 241.8) scale(1.0000 1.0069)" font-family="'Liberation Sans', sans-serif" font-size="25.7" fill="#000" stroke="#000" stroke-width="0.45">70</text>
<text transform="translate(530.85 288.8) scale(1.0000 1.0069)" font-family="'Liberation Sans', sans-serif" font-size="25.7" fill="#000" stroke="#000" stroke-width="0.45">60</text>
<text transform="translate(530.85 335.8) scale(1.0000 1.0069)" font-family="'Liberation Sans', sans-serif" font-size="25.7" fill="#000" stroke="#000" stroke-width="0.45">50</text>
<text transform="translate(743.25 138.85) scale(0.9162 1.0519)" font-family="'Liberation Serif', serif" font-size="36" fill="#000" stroke="#000" stroke-width="0.3">*</text>
<text transform="translate(851.15 216) scale(0.9162 1.0074)" font-family="'Liberation Serif', serif" font-size="36" fill="#000" stroke="#000" stroke-width="0.3" letter-spacing="1.536">**</text>
<text transform="translate(960.85 226.3) scale(0.9162 0.9778)" font-family="'Liberation Serif', serif" font-size="36" fill="#000" stroke="#000" stroke-width="0.3" letter-spacing="1.536">**</text>
<text transform="translate(604.1 367.7) scale(1.0031 1.0000)" font-family="'Liberation Sans', sans-serif" font-size="32" fill="#000" stroke="#000" stroke-width="0.45">Ctrl</text>
<text transform="translate(718.91 367.7) scale(0.9880 1.0000)" font-family="'Liberation Sans', sans-serif" font-size="32" fill="#000" stroke="#000" stroke-width="0.45"><tspan font-style="italic">E.coli</tspan></text>
<text transform="translate(813.51 367.7) scale(0.9836 1.0000)" font-family="'Liberation Sans', sans-serif" font-size="32" fill="#000" stroke="#000" stroke-width="0.45"><tspan font-style="italic">S.aureus</tspan></text>
<text transform="translate(961.69 367.7) scale(1.0065 1.0000)" font-family="'Liberation Sans', sans-serif" font-size="32" fill="#000" stroke="#000" stroke-width="0.45">OPDex</text>
<text transform="translate(456.5 319.99) rotate(-90) scale(0.9961 1.0000)" font-family="'Liberation Sans', sans-serif" font-size="32" fill="#000" stroke="#000" stroke-width="0.45">Phagocytic index</text>
<text transform="translate(495.3 280.47) rotate(-90) scale(0.9786 1.0000)" font-family="'Liberation Sans', sans-serif" font-size="32" fill="#000" stroke="#000" stroke-width="0.45">(%  control)</text>
<text transform="translate(81.54 550.64) scale(1.0000 1.0067)" font-family="'Liberation Sans', sans-serif" font-size="29.3" fill="#000" stroke="#000" stroke-width="0.45">150</text>
<text transform="translate(81.54 634.77) scale(1.0000 1.0067)" font-family="'Liberation Sans', sans-serif" font-size="29.3" fill="#000" stroke="#000" stroke-width="0.45">100</text>
<text transform="translate(97.84 718.91) scale(1.0000 1.0067)" font-family="'Liberation Sans', sans-serif" font-size="29.3" fill="#000" stroke="#000" stroke-width="0.45">50</text>
<text transform="translate(114.13 803.04) scale(1.0000 1.0067)" font-family="'Liberation Sans', sans-serif" font-size="29.3" fill="#000" stroke="#000" stroke-width="0.45">0</text>
<text transform="translate(189.14 540.95) scale(0.8802 1.0182)" font-family="'Liberation Serif', serif" font-size="33" fill="#000" stroke="#000" stroke-width="0.3" letter-spacing="2.246">***</text>
<text transform="translate(276.3 520.6) scale(0.9826 1.0000)" font-family="'Liberation Sans', sans-serif" font-size="32" fill="#000" stroke="#000" stroke-width="0.45">vehicle</text>
<text transform="translate(403.79 520.6) scale(1.0061 1.0000)" font-family="'Liberation Sans', sans-serif" font-size="32" fill="#000" stroke="#000" stroke-width="0.45">morphine</text>
<text transform="translate(204.72 833.01) scale(1.0000 1.0042)" font-family="'Liberation Sans', sans-serif" font-size="24.8" fill="#000" stroke="#000" stroke-width="0.45">0</text>
<text transform="translate(316.02 833.4) scale(1.0000 1.0265)" font-family="'Liberation Sans', sans-serif" font-size="24.8" fill="#000" stroke="#000" stroke-width="0.45">2</text>
<text transform="translate(427.22 833.4) scale(1.0000 1.0265)" font-family="'Liberation Sans', sans-serif" font-size="24.8" fill="#000" stroke="#000" stroke-width="0.45">4</text>
<text transform="translate(539.52 833.01) scale(1.0000 1.0042)" font-family="'Liberation Sans', sans-serif" font-size="24.8" fill="#000" stroke="#000" stroke-width="0.45">6</text>
<text transform="translate(148.87 881.9) scale(1.0132 1.0000)" font-family="'Liberation Sans', sans-serif" font-size="32" fill="#000" stroke="#000" stroke-width="0.45">Duration of LTA incubation (hr)</text>
<text transform="translate(29.2 806) rotate(-90)" font-family="'Liberation Sans', sans-serif" font-size="32" fill="#000" stroke="#000" stroke-width="0.45">Phagocytic index of</text>
<text transform="translate(65 791.79) rotate(-90) scale(0.9798 1.0000)" font-family="'Liberation Sans', sans-serif" font-size="32" fill="#000" stroke="#000" stroke-width="0.45"><tspan font-style="italic">E.Coli</tspan> (% control)</text>
<text transform="translate(953.94 567.6) scale(1.0000 1.0027)" font-family="'Liberation Sans', sans-serif" font-size="29" fill="#000" stroke="#000" stroke-width="0.45">200</text>
<text transform="translate(953.94 645.4) scale(1.0000 1.0027)" font-family="'Liberation Sans', sans-serif" font-size="29" fill="#000" stroke="#000" stroke-width="0.45">150</text>
<text transform="translate(953.94 723.2) scale(1.0000 1.0027)" font-family="'Liberation Sans', sans-serif" font-size="29" fill="#000" stroke="#000" stroke-width="0.45">100</text>
<text transform="translate(970.07 801) scale(1.0000 1.0027)" font-family="'Liberation Sans', sans-serif" font-size="29" fill="#000" stroke="#000" stroke-width="0.45">50</text>
<text transform="translate(1079.68 677.25) scale(0.8503 0.9212)" font-family="'Liberation Serif', serif" font-size="33" fill="#000" stroke="#000" stroke-width="0.3">*</text>
<text transform="translate(1164.64 599.92) scale(0.8802 0.9293)" font-family="'Liberation Serif', serif" font-size="33" fill="#000" stroke="#000" stroke-width="0.3" letter-spacing="-0.083">***</text>
<text transform="translate(1294.24 585.85) scale(0.8802 0.9212)" font-family="'Liberation Serif', serif" font-size="33" fill="#000" stroke="#000" stroke-width="0.3" letter-spacing="-0.140">**</text>
<text transform="translate(1385.64 561.83) scale(0.8802 0.9293)" font-family="'Liberation Serif', serif" font-size="33" fill="#000" stroke="#000" stroke-width="0.3" letter-spacing="0.428">**</text>
<text transform="translate(1107.6 524.5) scale(0.9948 1.0000)" font-family="'Liberation Sans', sans-serif" font-size="32" fill="#000" stroke="#000" stroke-width="0.45">vehicle</text>
<text transform="translate(1238.48 524.5) scale(1.0092 1.0000)" font-family="'Liberation Sans', sans-serif" font-size="32" fill="#000" stroke="#000" stroke-width="0.45">morphine</text>
<text transform="translate(1068.85 837.59) scale(1.0000 0.9975)" font-family="'Liberation Sans', sans-serif" font-size="26.5" fill="#000" stroke="#000" stroke-width="0.45">0</text>
<text transform="translate(1180.85 838) scale(1.0000 1.0197)" font-family="'Liberation Sans', sans-serif" font-size="26.5" fill="#000" stroke="#000" stroke-width="0.45">2</text>
<text transform="translate(1288.85 838) scale(1.0000 1.0197)" font-family="'Liberation Sans', sans-serif" font-size="26.5" fill="#000" stroke="#000" stroke-width="0.45">4</text>
<text transform="translate(1396.15 837.59) scale(1.0000 0.9975)" font-family="'Liberation Sans', sans-serif" font-size="26.5" fill="#000" stroke="#000" stroke-width="0.45">6</text>
<text transform="translate(1010.49 891.2) scale(1.0026 1.0000)" font-family="'Liberation Sans', sans-serif" font-size="32" fill="#000" stroke="#000" stroke-width="0.45">Duration of LPS incubation (hr)</text>
<text transform="translate(896.8 824.5) rotate(-90) scale(0.9935 1.0000)" font-family="'Liberation Sans', sans-serif" font-size="32.2" fill="#000" stroke="#000" stroke-width="0.45">Phagocytic Index of</text>
<text transform="translate(932.2 798.5) rotate(-90) scale(1.0488 1.0000)" font-family="'Liberation Sans', sans-serif" font-size="30.8" fill="#000" stroke="#000" stroke-width="0.45"><tspan font-style="italic">E.coli</tspan>(%control)</text>
<text transform="translate(90.67 1117.29) scale(1.0000 1.0060)" font-family="'Liberation Sans', sans-serif" font-size="26" fill="#000" stroke="#000" stroke-width="0.45">120</text>
<text transform="translate(90.67 1159.02) scale(1.0000 1.0060)" font-family="'Liberation Sans', sans-serif" font-size="26" fill="#000" stroke="#000" stroke-width="0.45">100</text>
<text transform="translate(105.13 1200.76) scale(1.0000 1.0060)" font-family="'Liberation Sans', sans-serif" font-size="26" fill="#000" stroke="#000" stroke-width="0.45">80</text>
<text transform="translate(105.13 1242.49) scale(1.0000 1.0060)" font-family="'Liberation Sans', sans-serif" font-size="26" fill="#000" stroke="#000" stroke-width="0.45">60</text>
<text transform="translate(105.13 1284.22) scale(1.0000 1.0060)" font-family="'Liberation Sans', sans-serif" font-size="26" fill="#000" stroke="#000" stroke-width="0.45">40</text>
<text transform="translate(105.13 1325.96) scale(1.0000 1.0060)" font-family="'Liberation Sans', sans-serif" font-size="26" fill="#000" stroke="#000" stroke-width="0.45">20</text>
<text transform="translate(119.59 1367.69) scale(1.0000 1.0060)" font-family="'Liberation Sans', sans-serif" font-size="26" fill="#000" stroke="#000" stroke-width="0.45">0</text>
<text transform="translate(182.54 1115.22) scale(0.8802 0.9939)" font-family="'Liberation Serif', serif" font-size="33" fill="#000" stroke="#000" stroke-width="0.3" letter-spacing="0.883">***</text>
<text transform="translate(279.4 1091.6) scale(0.9846 1.0000)" font-family="'Liberation Sans', sans-serif" font-size="32" fill="#000" stroke="#000" stroke-width="0.45">vehicle</text>
<text transform="translate(409.68 1091.6) scale(1.0115 1.0000)" font-family="'Liberation Sans', sans-serif" font-size="32" fill="#000" stroke="#000" stroke-width="0.45">morphine</text>
<text transform="translate(190.53 1399.71) scale(1.0000 1.0042)" font-family="'Liberation Sans', sans-serif" font-size="24.8" fill="#000" stroke="#000" stroke-width="0.45">0</text>
<text transform="translate(306.32 1400.1) scale(1.0000 1.0265)" font-family="'Liberation Sans', sans-serif" font-size="24.8" fill="#000" stroke="#000" stroke-width="0.45">2</text>
<text transform="translate(409.42 1400.1) scale(1.0000 1.0265)" font-family="'Liberation Sans', sans-serif" font-size="24.8" fill="#000" stroke="#000" stroke-width="0.45">4</text>
<text transform="translate(513.23 1399.71) scale(1.0000 1.0042)" font-family="'Liberation Sans', sans-serif" font-size="24.8" fill="#000" stroke="#000" stroke-width="0.45">6</text>
<text transform="translate(156.47 1450.5) scale(1.0132 1.0000)" font-family="'Liberation Sans', sans-serif" font-size="32" fill="#000" stroke="#000" stroke-width="0.45">Duration of LTA incubation (hr)</text>
<text transform="translate(33 1366) rotate(-90)" font-family="'Liberation Sans', sans-serif" font-size="32" fill="#000" stroke="#000" stroke-width="0.45">Phagocytic index of</text>
<text transform="translate(68 1353.89) rotate(-90) scale(0.9967 1.0000)" font-family="'Liberation Sans', sans-serif" font-size="32" fill="#000" stroke="#000" stroke-width="0.45">beads (% control)</text>
<text transform="translate(935.24 1121.7) scale(1.0000 0.9931)" font-family="'Liberation Sans', sans-serif" font-size="29" fill="#000" stroke="#000" stroke-width="0.45">200</text>
<text transform="translate(935.24 1198.53) scale(1.0000 0.9931)" font-family="'Liberation Sans', sans-serif" font-size="29" fill="#000" stroke="#000" stroke-width="0.45">150</text>
<text transform="translate(935.24 1275.37) scale(1.0000 0.9931)" font-family="'Liberation Sans', sans-serif" font-size="29" fill="#000" stroke="#000" stroke-width="0.45">100</text>
<text transform="translate(951.37 1352.2) scale(1.0000 0.9931)" font-family="'Liberation Sans', sans-serif" font-size="29" fill="#000" stroke="#000" stroke-width="0.45">50</text>
<text transform="translate(1036.04 1219.1) scale(0.8802 0.9374)" font-family="'Liberation Serif', serif" font-size="33" fill="#000" stroke="#000" stroke-width="0.3" letter-spacing="1.621">***</text>
<text transform="translate(1142.44 1172.62) scale(0.8802 0.9293)" font-family="'Liberation Serif', serif" font-size="33" fill="#000" stroke="#000" stroke-width="0.3" letter-spacing="1.792">***</text>
<text transform="translate(1249.84 1135.3) scale(0.8802 0.9374)" font-family="'Liberation Serif', serif" font-size="33" fill="#000" stroke="#000" stroke-width="0.3" letter-spacing="1.337">***</text>
<text transform="translate(1352.64 1137.98) scale(0.8802 0.9455)" font-family="'Liberation Serif', serif" font-size="33" fill="#000" stroke="#000" stroke-width="0.3" letter-spacing="1.337">***</text>
<text transform="translate(1051.9 1090.3) scale(0.9948 1.0000)" font-family="'Liberation Sans', sans-serif" font-size="32" fill="#000" stroke="#000" stroke-width="0.45">vehicle</text>
<text transform="translate(1183.2 1090.3)" font-family="'Liberation Sans', sans-serif" font-size="32" fill="#000" stroke="#000" stroke-width="0.45">morphine</text>
<text transform="translate(1049.99 1386.19) scale(1.0000 1.0060)" font-family="'Liberation Sans', sans-serif" font-size="26" fill="#000" stroke="#000" stroke-width="0.45">0</text>
<text transform="translate(1162.69 1386.6) scale(1.0000 1.0284)" font-family="'Liberation Sans', sans-serif" font-size="26" fill="#000" stroke="#000" stroke-width="0.45">2</text>
<text transform="translate(1269.99 1386.6) scale(1.0000 1.0284)" font-family="'Liberation Sans', sans-serif" font-size="26" fill="#000" stroke="#000" stroke-width="0.45">4</text>
<text transform="translate(1378.39 1386.19) scale(1.0000 1.0060)" font-family="'Liberation Sans', sans-serif" font-size="26" fill="#000" stroke="#000" stroke-width="0.45">6</text>
<text transform="translate(1016.13 1439.7) scale(1.0680 1.0000)" font-family="'Liberation Sans', sans-serif" font-size="32" fill="#000" stroke="#000" stroke-width="0.45">Duration of LPS incubation (hr)</text>
<text transform="translate(882.5 1365.8) rotate(-90) scale(1.0014 1.0000)" font-family="'Liberation Sans', sans-serif" font-size="32" fill="#000" stroke="#000" stroke-width="0.45">Phagocytic index of</text>
<text transform="translate(917 1353.91) rotate(-90) scale(1.0060 1.0000)" font-family="'Liberation Sans', sans-serif" font-size="32" fill="#000" stroke="#000" stroke-width="0.45">beads (% control)</text>
<text transform="translate(80.63 1613.2) scale(0.9692 0.9803)" font-family="'Liberation Sans', sans-serif" font-size="32.5" fill="#000" stroke="#000" stroke-width="0.45">150</text>
<text transform="translate(85.37 1712.2) scale(0.9517 0.9803)" font-family="'Liberation Sans', sans-serif" font-size="32.5" fill="#000" stroke="#000" stroke-width="0.45">100</text>
<text transform="translate(100.34 1814.61) scale(0.9439 0.9589)" font-family="'Liberation Sans', sans-serif" font-size="32.5" fill="#000" stroke="#000" stroke-width="0.45">50</text>
<text transform="translate(122.86 1915.88) scale(1.0277 1.0274)" font-family="'Liberation Sans', sans-serif" font-size="32.5" fill="#000" stroke="#000" stroke-width="0.45">0</text>
<text transform="translate(184.34 1651.2) scale(0.8802 0.9697)" font-family="'Liberation Serif', serif" font-size="33" fill="#000" stroke="#000" stroke-width="0.3" letter-spacing="1.413">****</text>
<text transform="translate(331 1575.5) scale(1.0477 1.0000)" font-family="'Liberation Sans', sans-serif" font-size="30.6" fill="#000" stroke="#000" stroke-width="0.45">vehicle</text>
<text transform="translate(472 1575.5) scale(1.0449 1.0000)" font-family="'Liberation Sans', sans-serif" font-size="30.6" fill="#000" stroke="#000" stroke-width="0.45">morphine</text>
<text transform="translate(203.72 1941.39) scale(1.0000 0.9908)" font-family="'Liberation Sans', sans-serif" font-size="33" fill="#000" stroke="#000" stroke-width="0.45">0</text>
<text transform="translate(324.72 1941.9) scale(1.0000 1.0128)" font-family="'Liberation Sans', sans-serif" font-size="33" fill="#000" stroke="#000" stroke-width="0.45">2</text>
<text transform="translate(445.98 1941.9) scale(1.0000 1.0128)" font-family="'Liberation Sans', sans-serif" font-size="33" fill="#000" stroke="#000" stroke-width="0.45">4</text>
<text transform="translate(567.02 1941.39) scale(1.0000 0.9908)" font-family="'Liberation Sans', sans-serif" font-size="33" fill="#000" stroke="#000" stroke-width="0.45">6</text>
<text transform="translate(187.89 1997.5) scale(1.0181 1.0000)" font-family="'Liberation Sans', sans-serif" font-size="31.5" fill="#000" stroke="#000" stroke-width="0.45">Duration of LTA incubation (hr)</text>
<text transform="translate(41.9 1908.72) rotate(-90) scale(1.0061 1.0000)" font-family="'Liberation Sans', sans-serif" font-size="32" fill="#000" stroke="#000" stroke-width="0.45">Phagocytic index of</text>
<text transform="translate(80 1908.49) rotate(-90) scale(0.9896 1.0000)" font-family="'Liberation Sans', sans-serif" font-size="32" fill="#000" stroke="#000" stroke-width="0.45">S.<tspan font-style="italic">aureus</tspan> (%control)</text>
<text transform="translate(943.05 1599.47) scale(1.0031 0.9938)" font-family="'Liberation Sans', sans-serif" font-size="34.3" fill="#000" stroke="#000" stroke-width="0.45">150</text>
<text transform="translate(941.87 1706.56) scale(0.9939 1.0100)" font-family="'Liberation Sans', sans-serif" font-size="34.3" fill="#000" stroke="#000" stroke-width="0.45">100</text>
<text transform="translate(958.7 1813.17) scale(1.0269 0.9816)" font-family="'Liberation Sans', sans-serif" font-size="34.3" fill="#000" stroke="#000" stroke-width="0.45">50</text>
<text transform="translate(977.99 1922.71) scale(0.8513 0.9167)" font-family="'Liberation Sans', sans-serif" font-size="34.3" fill="#000" stroke="#000" stroke-width="0.45">0</text>
<text transform="translate(1053.74 1659.18) scale(0.8802 0.9455)" font-family="'Liberation Serif', serif" font-size="33" fill="#000" stroke="#000" stroke-width="0.3" letter-spacing="1.110">**</text>
<text transform="translate(1178.84 1665.47) scale(0.8802 0.8808)" font-family="'Liberation Serif', serif" font-size="33" fill="#000" stroke="#000" stroke-width="0.3" letter-spacing="0.315">**</text>
<text transform="translate(1126.8 1559.9) scale(1.0332 1.0000)" font-family="'Liberation Sans', sans-serif" font-size="30.4" fill="#000" stroke="#000" stroke-width="0.45">vehicle</text>
<text transform="translate(1275.89 1559.9) scale(1.0582 1.0000)" font-family="'Liberation Sans', sans-serif" font-size="30.4" fill="#000" stroke="#000" stroke-width="0.45">morphine</text>
<text transform="translate(1067.12 1947.08) scale(1.0000 0.9950)" font-family="'Liberation Sans', sans-serif" font-size="33.7" fill="#000" stroke="#000" stroke-width="0.45">0</text>
<text transform="translate(1188.52 1947.6) scale(1.0000 1.0171)" font-family="'Liberation Sans', sans-serif" font-size="33.7" fill="#000" stroke="#000" stroke-width="0.45">2</text>
<text transform="translate(1310.79 1947.6) scale(1.0000 1.0171)" font-family="'Liberation Sans', sans-serif" font-size="33.7" fill="#000" stroke="#000" stroke-width="0.45">4</text>
<text transform="translate(1433.12 1947.08) scale(1.0000 0.9950)" font-family="'Liberation Sans', sans-serif" font-size="33.7" fill="#000" stroke="#000" stroke-width="0.45">6</text>
<text transform="translate(1047.91 1997.4) scale(0.9926 1.0000)" font-family="'Liberation Sans', sans-serif" font-size="29.5" fill="#000" stroke="#000" stroke-width="0.45">Duration of LPS incubation (hr)</text>
<text transform="translate(881.3 1908.57) rotate(-90) scale(0.9621 1.0000)" font-family="'Liberation Sans', sans-serif" font-size="30.2" fill="#000" stroke="#000" stroke-width="0.45">Phagocytic index of</text>
<text transform="translate(918.8 1935.09) rotate(-90) scale(0.9755 1.0000)" font-family="'Liberation Sans', sans-serif" font-size="32.6" fill="#000" stroke="#000" stroke-width="0.45">S. <tspan font-style="italic">aureus</tspan> (%  control)</text>
</svg></body></html>
